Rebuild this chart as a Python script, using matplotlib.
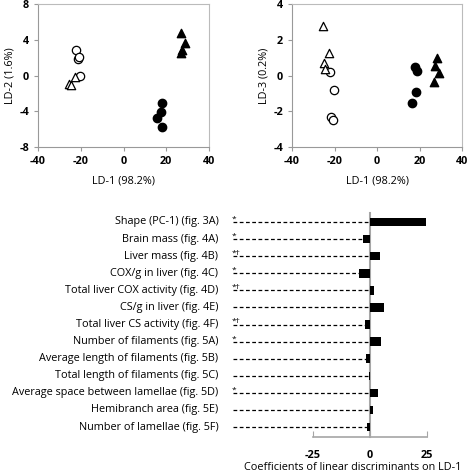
import numpy as np
import matplotlib.pyplot as plt

plt.rcParams['font.family'] = ['Open Sans', 'DejaVu Sans']

# LD scores per group (LD-1, LD-2, LD-3)
open_circ_ld1 = [-22.0, -21.4, -20.7, -20.2]
open_circ_ld2 = [2.8, 1.8, 2.1, 0.0]
open_circ_ld1b = [-22.0, -20.1, -21.6, -20.5]
open_circ_ld3 = [0.17, -0.82, -2.32, -2.5]

open_tri_ld1 = [-25.3, -24.6, -22.5]
open_tri_ld2 = [-1.0, -1.05, -0.15]
open_tri_ld1b = [-25.4, -22.6, -24.8, -24.3]
open_tri_ld3 = [2.77, 1.27, 0.71, 0.34]

fill_circ_ld1 = [17.9, 17.4, 15.7, 18.2]
fill_circ_ld2 = [-3.07, -4.07, -4.8, -5.75]
fill_circ_ld1b = [17.9, 18.8, 18.2, 16.3]
fill_circ_ld3 = [0.45, 0.26, -0.92, -1.53]

fill_tri_ld1 = [26.9, 29.0, 26.8, 27.3]
fill_tri_ld2 = [4.8, 3.66, 2.54, 2.9]
fill_tri_ld1b = [28.2, 27.5, 29.3, 26.7]
fill_tri_ld3 = [1.0, 0.52, 0.15, -0.36]

variables = ["Shape (PC-1) (fig. 3A)", "Brain mass (fig. 4A)", "Liver mass (fig. 4B)",
             "COX/g in liver (fig. 4C)", "Total liver COX activity (fig. 4D)",
             "CS/g in liver (fig. 4E)", "Total liver CS activity (fig. 4F)",
             "Number of filaments (fig. 5A)", "Average length of filaments (fig. 5B)",
             "Total length of filaments (fig. 5C)", "Average space between lamellae (fig. 5D)",
             "Hemibranch area (fig. 5E)", "Number of lamellae (fig. 5F)"]
coefs = [24.4, -3.0, 4.4, -4.8, 1.6, 6.0, -2.2, 5.0, -1.6, -0.5, 3.3, 1.3, -1.2]
signif = ["*", "*", "*†", "*", "*†", "", "*†", "*", "", "", "*", "", ""]

W, H = 473, 474
fs = 7.8
fig = plt.figure(figsize=(W / 100, H / 100), dpi=100)

def px_axes(l, t, r, b):
    return fig.add_axes([l / W, 1 - b / H, (r - l) / W, (b - t) / H])

def style_scatter(ax, yticks):
    for s in ['left', 'bottom']:
        ax.spines[s].set_color('#999999')
    for s in ['top', 'right']:
        ax.spines[s].set_color('#bbbbbb')
    ax.tick_params(direction='out', length=3, color='#999999', labelsize=fs)
    ax.set_xlim(-40, 40)
    xt = [-40, -20, 0, 20, 40]
    ax.set_xticks(xt, [str(v) for v in xt], fontweight='bold')
    ax.set_ylim(yticks[0], yticks[-1])
    ax.set_yticks(yticks, [str(v) for v in yticks], fontweight='bold')
    ax.set_xlabel("LD-1 (98.2%)", fontsize=fs, labelpad=6)

ms = 36
ax1 = px_axes(38, 4, 209, 147)
ax1.scatter(open_circ_ld1, open_circ_ld2, s=ms, marker='o', facecolor='white', edgecolor='black', lw=0.9, zorder=3)
ax1.scatter(open_tri_ld1, open_tri_ld2, s=ms, marker='^', facecolor='white', edgecolor='black', lw=0.9, zorder=3)
ax1.scatter(fill_circ_ld1, fill_circ_ld2, s=ms, marker='o', color='black', zorder=3)
ax1.scatter(fill_tri_ld1, fill_tri_ld2, s=ms, marker='^', color='black', zorder=3)
ax1.set_ylabel("LD-2 (1.6%)", fontsize=fs, labelpad=3)
style_scatter(ax1, [-8, -4, 0, 4, 8])

ax2 = px_axes(292, 4, 462, 147)
ax2.scatter(open_circ_ld1b, open_circ_ld3, s=ms, marker='o', facecolor='white', edgecolor='black', lw=0.9, zorder=3)
ax2.scatter(open_tri_ld1b, open_tri_ld3, s=ms, marker='^', facecolor='white', edgecolor='black', lw=0.9, zorder=3)
ax2.scatter(fill_circ_ld1b, fill_circ_ld3, s=ms, marker='o', color='black', zorder=3)
ax2.scatter(fill_tri_ld1b, fill_tri_ld3, s=ms, marker='^', color='black', zorder=3)
ax2.set_ylabel("LD-3 (0.2%)", fontsize=fs, labelpad=3)
style_scatter(ax2, [-4, -2, 0, 2, 4])

# bottom: coefficients on LD-1
ax3 = px_axes(228, 210, 460, 445)
ypos = -np.arange(len(variables))
ax3.barh(ypos, coefs, height=0.5, color='black', zorder=3)
for y, c, s in zip(ypos, coefs, signif):
    ax3.plot([-60, min(c, 0)], [y, y], color='black', lw=0.9, ls=(0, (3, 2)), zorder=2)
    if s:
        ax3.text(-60.5, y - 0.05, s, fontsize=6, ha='left', va='bottom')
ax3.plot([0, 0], [0.55, -12.6], color='#a6a6a6', lw=1.5, zorder=2)
ax3.set_xlim(-62.3, 39.5)
ax3.set_ylim(-13.05, 0.70)
ax3.set_yticks([])
for s in ['left', 'top', 'right']:
    ax3.spines[s].set_visible(False)
ax3.spines['bottom'].set_position(('data', -12.6))
ax3.spines['bottom'].set_bounds(-25, 25)
ax3.spines['bottom'].set_color('#a6a6a6')
ax3.spines['bottom'].set_linewidth(1.2)
ax3.set_xticks([-25, 0, 25], ['-25', '0', '25'], fontweight='bold')
ax3.tick_params(axis='x', direction='in', length=4, color='#a6a6a6', labelsize=fs, pad=9)
for y, name in zip(ypos, variables):
    ax3.text(-66.5, y, name, fontsize=fs, ha='right', va='center')

fig.text(353 / W, 1 / H, "Coefficients of linear discriminants on LD-1",
         fontsize=fs, ha='center', va='bottom')

fig.savefig("out.png", dpi=100)
